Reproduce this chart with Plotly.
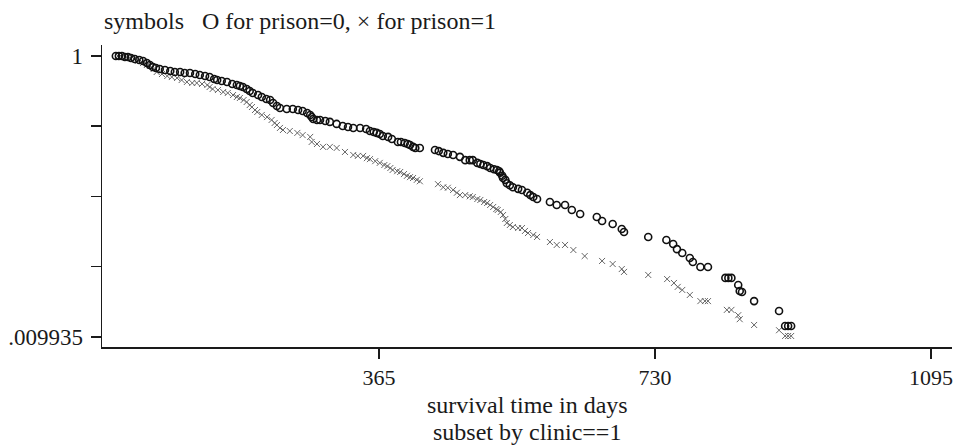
import plotly.graph_objects as go

# survival time (days) and survival estimate, prison=0 (O)
t_prison0 = [17, 21, 25, 29, 33, 37, 42, 48, 53, 58, 62, 66, 70, 75, 82, 89, 95, 102, 108, 115,
             122, 128, 135, 141, 147, 151, 157, 164, 171, 177, 181, 185, 190, 194, 198, 205, 210, 216, 221, 225,
             230, 234, 243, 251, 258, 264, 270, 274, 276, 278, 283, 287, 294, 300, 309, 317, 324, 331, 340, 348,
             353, 358, 362, 366, 370, 377, 382, 390, 394, 399, 403, 406, 410, 413, 419, 439, 444, 450, 456, 463,
             472, 479, 485, 489, 495, 499, 503, 508, 512, 517, 521, 524, 525, 528, 529, 532, 534, 538, 542, 549,
             554, 561, 565, 569, 574, 591, 600, 611, 620, 631, 653, 660, 674, 686, 689, 721, 745, 754, 759, 766,
             776, 780, 790, 800, 823, 827, 831, 840, 842, 845, 861, 894, 902, 906, 910]
s_prison0 = [1.000, 1.000, 1.000, 0.984, 0.984, 0.968, 0.952, 0.936, 0.921, 0.891, 0.863, 0.835, 0.821, 0.808, 0.795, 0.782, 0.769, 0.769, 0.757, 0.757,
             0.744, 0.732, 0.720, 0.708, 0.686, 0.674, 0.663, 0.653, 0.632, 0.621, 0.611, 0.601, 0.582, 0.563, 0.545, 0.527, 0.510, 0.494, 0.486, 0.462,
             0.440, 0.426, 0.419, 0.419, 0.412, 0.405, 0.392, 0.380, 0.367, 0.356, 0.350, 0.350, 0.344, 0.339, 0.328, 0.317, 0.312, 0.307, 0.307, 0.302,
             0.292, 0.287, 0.283, 0.278, 0.269, 0.265, 0.256, 0.244, 0.244, 0.240, 0.236, 0.232, 0.225, 0.221, 0.221, 0.214, 0.210, 0.204, 0.200, 0.197,
             0.191, 0.181, 0.181, 0.181, 0.173, 0.170, 0.167, 0.164, 0.159, 0.156, 0.154, 0.151, 0.147, 0.140, 0.135, 0.131, 0.124, 0.120, 0.116, 0.113,
             0.111, 0.106, 0.102, 0.0988, 0.0956, 0.0910, 0.0867, 0.0867, 0.0798, 0.0748, 0.0712, 0.0666, 0.0634, 0.0585, 0.0556, 0.0513, 0.0488, 0.0457, 0.0420, 0.0394,
             0.0363, 0.0340, 0.0313, 0.0313, 0.0262, 0.0262, 0.0262, 0.0233, 0.0211, 0.0208, 0.0179, 0.0152, 0.0119, 0.0119, 0.0119]

# prison=1 (x)
t_prison1 = [20, 25, 30, 36, 41, 46, 53, 58, 62, 67, 71, 78, 85, 91, 98, 104, 111, 118, 124, 131,
             138, 141, 145, 152, 159, 165, 172, 177, 181, 186, 190, 194, 197, 201, 204, 210, 217, 223, 227, 230,
             234, 238, 247, 257, 264, 274, 276, 283, 291, 300, 309, 320, 331, 337, 344, 349, 353, 360, 366, 372,
             376, 380, 383, 389, 393, 398, 402, 406, 410, 415, 419, 443, 450, 456, 463, 468, 472, 479, 485, 489,
             495, 499, 504, 508, 512, 516, 520, 522, 526, 529, 532, 534, 538, 542, 549, 554, 558, 562, 569, 574,
             591, 600, 611, 622, 637, 660, 674, 686, 689, 721, 746, 755, 760, 766, 776, 790, 796, 800, 825, 831,
             840, 842, 861, 894, 902, 906, 910]
s_prison1 = [1.000, 0.984, 0.984, 0.968, 0.952, 0.921, 0.891, 0.863, 0.849, 0.808, 0.769, 0.744, 0.720, 0.708, 0.697, 0.674, 0.653, 0.642, 0.642, 0.632,
             0.621, 0.601, 0.582, 0.572, 0.554, 0.545, 0.527, 0.510, 0.502, 0.486, 0.470, 0.447, 0.433, 0.412, 0.399, 0.380, 0.367, 0.350, 0.333, 0.322,
             0.307, 0.297, 0.292, 0.283, 0.273, 0.265, 0.244, 0.236, 0.225, 0.225, 0.221, 0.207, 0.197, 0.194, 0.194, 0.187, 0.184, 0.178, 0.173, 0.167,
             0.164, 0.159, 0.154, 0.151, 0.149, 0.144, 0.140, 0.137, 0.135, 0.131, 0.128, 0.122, 0.116, 0.115, 0.111, 0.106, 0.102, 0.102, 0.100, 0.0988,
             0.0956, 0.0941, 0.0910, 0.0896, 0.0867, 0.0839, 0.0811, 0.0798, 0.0773, 0.0735, 0.0689, 0.0645, 0.0624, 0.0604, 0.0594, 0.0594, 0.0566, 0.0547, 0.0530, 0.0513,
             0.0472, 0.0450, 0.0450, 0.0414, 0.0375, 0.0346, 0.0329, 0.0303, 0.0289, 0.0275, 0.0257, 0.0241, 0.0226, 0.0215, 0.0198, 0.0179, 0.0179, 0.0179, 0.0155, 0.0155,
             0.0142, 0.0133, 0.0121, 0.0111, 0.0101, 0.0101, 0.0101]

x_tick_vals = [365, 730, 1095]
x_tick_text = ["365", "730", "1095"]
y_tick_vals = [1, 0.31571, 0.09967, 0.031468, 0.009935]
y_tick_text = ["1", "", "", "", ".009935"]

title_text = "symbols   O for prison=0, \u00d7 for prison=1"
xtitle_line1 = "survival time in days"
xtitle_line2 = "subset by clinic==1"

FONT = "Liberation Serif"
INK = "#1a1a1a"

fig = go.Figure()
fig.add_trace(go.Scatter(
    x=t_prison1, y=s_prison1, mode="markers", name="prison=1",
    marker=dict(symbol="x-thin-open", size=6, color="#666666",
                line=dict(width=1, color="#666666")),
))
fig.add_trace(go.Scatter(
    x=t_prison0, y=s_prison0, mode="markers", name="prison=0",
    marker=dict(symbol="circle-open", size=7, color="#111111",
                line=dict(width=1.6, color="#111111")),
))

fig.update_layout(
    width=954, height=447,
    margin=dict(l=102, r=2, t=45, b=100, pad=0),
    paper_bgcolor="white", plot_bgcolor="white",
    showlegend=False,
    font=dict(family=FONT, color=INK, size=23),
    xaxis=dict(range=[-1.3, 1122.7], tickvals=x_tick_vals, ticktext=x_tick_text,
               showline=True, linecolor=INK, linewidth=1.5,
               ticks="outside", ticklen=10, tickwidth=1.5, tickcolor=INK,
               showgrid=False, zeroline=False, ticklabeloverflow="allow",
               tickfont=dict(family=FONT, size=22, color=INK)),
    yaxis=dict(type="log", range=[-2.0743, 0.0784], tickvals=y_tick_vals, ticktext=y_tick_text,
               showline=True, linecolor=INK, linewidth=1.5,
               ticks="outside", ticklen=10, tickwidth=1.5, tickcolor=INK,
               showgrid=False, zeroline=False, ticklabelstandoff=3,
               tickfont=dict(family=FONT, size=23, color=INK)),
    annotations=[
        dict(text=title_text, xref="paper", yref="paper", x=0, y=1.0795,
             xanchor="left", yanchor="middle", showarrow=False,
             font=dict(family=FONT, size=24, color=INK)),
        dict(text=xtitle_line1, xref="paper", yref="paper", x=0.5, y=-0.192,
             xanchor="center", yanchor="middle", showarrow=False,
             font=dict(family=FONT, size=24, color=INK)),
        dict(text=xtitle_line2, xref="paper", yref="paper", x=0.5, y=-0.281,
             xanchor="center", yanchor="middle", showarrow=False,
             font=dict(family=FONT, size=24, color=INK)),
    ],
)

# remove the browser's default page margin so the figure fills the window exactly
fig.write_html("out.html",
               config={"displayModeBar": False, "staticPlot": True},
               post_script="document.body.style.margin='0';document.body.style.overflow='hidden';")
